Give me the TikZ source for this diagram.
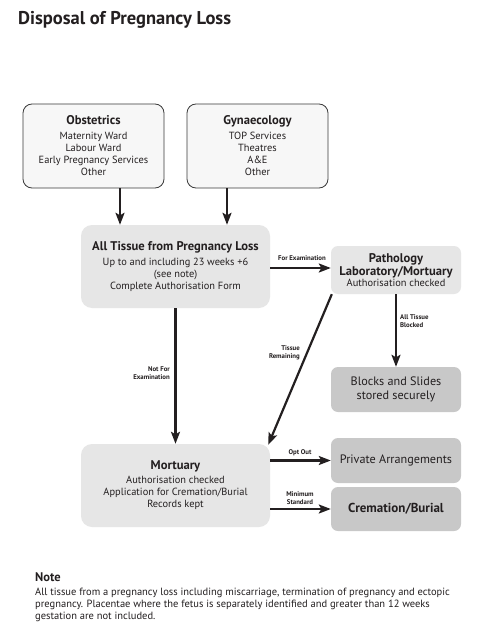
\documentclass[tikz,border=0pt]{standalone}
\usepackage{fontspec}
\setmainfont{PT Sans}
\usetikzlibrary{arrows.meta,calc}
\definecolor{ink}{HTML}{231F20}
\definecolor{boxline}{HTML}{3A3A3A}
\definecolor{lightfill}{HTML}{F7F7F7}
\definecolor{midfill}{HTML}{E6E6E6}
\definecolor{darkfill}{HTML}{C8C8C8}
\newcommand\hdfont{\fontsize{12.6}{14}\selectfont\bfseries}
\newcommand\bodyfont{\fontsize{10.4}{12}\selectfont}
\begin{document}
\begin{tikzpicture}[x=1pt,y=-1pt,
  srcbox/.style={draw=boxline, fill=lightfill, line width=0.8pt, rounded corners=9pt,
    minimum width=141pt, minimum height=84pt, inner sep=0pt, align=center, text=ink, font=\bodyfont},
  bigbox/.style={fill=midfill, rounded corners=11pt, minimum width=189pt, minimum height=83pt,
    inner sep=0pt, align=center, text=ink, font=\bodyfont},
  pathbox/.style={fill=midfill, rounded corners=7pt, minimum width=130pt, minimum height=48pt,
    inner sep=0pt, align=center, text=ink, font=\bodyfont},
  endbox/.style={fill=darkfill, rounded corners=7pt, minimum width=130pt, minimum height=45pt,
    inner sep=0pt, align=center, text=ink, font=\fontsize{12.2}{13}\selectfont},
  arr/.style={draw=ink, line width=2.2pt, -{Stealth[length=12pt,width=9pt,inset=2.5pt]}},
  lbl/.style={font=\fontsize{6.8}{7.8}\selectfont\bfseries, text=ink, inner sep=0pt},
  notetxt/.style={font=\fontsize{10.5}{12}\selectfont, text=ink, inner sep=0pt, anchor=base west}
]
\useasboundingbox (0,0) rectangle (480,644);
\fill[white] (0,0) rectangle (480,644);

\node[anchor=base west, inner sep=0pt, text=ink, font=\fontsize{18.5}{21}\selectfont\bfseries] (title) at (18,25) {Disposal of Pregnancy Loss};

\node[srcbox] (obs) at (93.5,146) {{\hdfont Obstetrics}\\[3pt] Maternity Ward\\ Labour Ward\\ Early Pregnancy Services\\ Other};
\node[srcbox] (gyn) at (257.5,146) {{\hdfont Gynaecology}\\[3pt] TOP Services\\ Theatres\\ A\&E\\ Other};

\node[bigbox] (tissue) at (175.5,266.5) {{\hdfont All Tissue from Pregnancy Loss}\\[3pt] Up to and including 23 weeks +6\\ (see note)\\ Complete Authorisation Form};

\node[pathbox] (path) at (396,270) {{\hdfont Pathology}\\[1.5pt] {\hdfont Laboratory/Mortuary}\\[-1pt] Authorisation checked};

\node[endbox] (blocks) at (396,389.5) {Blocks and Slides\\[1pt] stored securely};

\node[bigbox] (mort) at (175.5,485.5) {{\hdfont Mortuary}\\[2pt] Authorisation checked\\ Application for Cremation/Burial\\ Records kept};

\node[endbox] (priv) at (396,460.5) {Private Arrangements};
\node[endbox, minimum height=44pt, font=\fontsize{13}{14}\selectfont\bfseries] (crem) at (396,509) {Cremation/Burial};

% connectors
\draw[arr] ([xshift=26.5pt]obs.south) -- ([xshift=26.5pt]obs.south |- tissue.north);
\draw[arr] ([xshift=-30.5pt]gyn.south) -- ([xshift=-30.5pt]gyn.south |- tissue.north);
\draw[arr] ([yshift=-1.5pt]tissue.east) -- ([yshift=-1.5pt]tissue.east -| path.west);
\draw[arr] (path.south) -- (blocks.north);
\draw[arr] (tissue.south) -- (mort.north);
\draw[arr] ([xshift=1pt]path.south west) -- ([xshift=-2pt,yshift=-1pt]mort.north east);
\draw[arr] (mort.east |- priv.west) -- (priv.west);
\draw[arr] (mort.east |- crem.west) -- (crem.west);

% labels
\node[lbl] (lfor) at (302,258) {For Examination};
\node[lbl, anchor=west, align=left] (lblk) at (400,321.5) {All Tissue\\ Blocked};
\node[lbl, anchor=east, align=right] (lnot) at (170,373.5) {Not For\\ Examination};
\node[lbl, anchor=east, align=right] (lrem) at (300,353) {Tissue\\ Remaining};
\node[lbl] (lopt) at (300,453) {Opt Out};
\node[lbl, align=center] (lmin) at (300,498.5) {Minimum\\ Standard};

% note
\node[anchor=base west, inner sep=0pt, text=ink, font=\fontsize{12.5}{14}\selectfont\bfseries] (notehd) at (35,581) {Note};
\node[notetxt] (n1) at (35,595) {All tissue from a pregnancy loss including miscarriage, termination of pregnancy and ectopic};
\node[notetxt] (n2) at (35,607) {pregnancy. Placentae where the fetus is separately identified and greater than 12 weeks};
\node[notetxt] (n3) at (35,619) {gestation are not included.};
\end{tikzpicture}
\end{document}
